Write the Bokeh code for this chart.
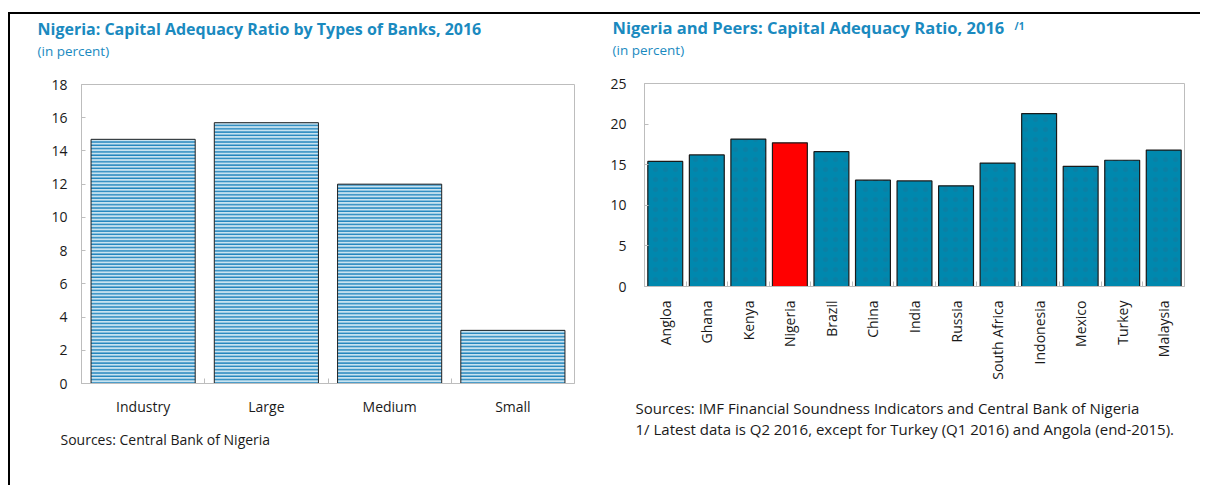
from math import pi
from bokeh.plotting import figure
from bokeh.models import FixedTicker, Range1d, ColumnDataSource, Title
from bokeh.layouts import row, column
from bokeh.embed import file_html
from bokeh.resources import INLINE

# ---------------- data ----------------
bank_types = ["Industry", "Large", "Medium", "Small"]
bank_car = [14.7, 15.7, 12.0, 3.2]
left_yticks = [0, 2, 4, 6, 8, 10, 12, 14, 16, 18]

countries = ["Angloa", "Ghana", "Kenya", "Nigeria", "Brazil", "China", "India",
             "Russia", "South Africa", "Indonesia", "Mexico", "Turkey", "Malaysia"]
country_car = [15.4, 16.2, 18.15, 17.7, 16.6, 13.1, 13.0, 12.4, 15.2, 21.3, 14.8, 15.55, 16.8]
right_yticks = [0, 5, 10, 15, 20, 25]

left_title = "Nigeria: Capital Adequacy Ratio by Types of Banks, 2016"
right_title = "Nigeria and Peers: Capital Adequacy Ratio, 2016"
footnote_mark = "/1"
subtitle = "(in percent)"
left_note = "Sources: Central Bank of Nigeria"
right_note1 = "Sources: IMF Financial Soundness Indicators and Central Bank of Nigeria"
right_note2 = "1/ Latest data is Q2 2016, except for Turkey (Q1 2016) and Angola (end-2015)."

# ---------------- style ----------------
FONT = "Open Sans"
TEAL_TXT = "#1a8abf"
GRAY = "#bdbdbd"
TXT = "#1a1a1a"
H = 471


def style_axes(p, n, names, ytks, ystand, xstand, xorient):
    p.xaxis.ticker = FixedTicker(ticks=[i + 0.5 for i in range(n)],
                                 minor_ticks=list(range(1, n)))
    p.xaxis.major_label_overrides = {i + 0.5: names[i] for i in range(n)}
    p.xaxis.major_tick_line_color = None
    p.xaxis.minor_tick_in = 5
    p.xaxis.minor_tick_out = 0
    p.xaxis.minor_tick_line_color = GRAY
    p.xaxis.axis_line_color = GRAY
    p.xaxis.major_label_standoff = xstand
    p.xaxis.major_label_orientation = xorient
    p.yaxis.ticker = FixedTicker(ticks=ytks, minor_ticks=[])
    p.yaxis.major_tick_in = 4
    p.yaxis.major_tick_out = 0
    p.yaxis.major_tick_line_color = GRAY
    p.yaxis.axis_line_color = GRAY
    p.yaxis.major_label_standoff = ystand
    for ax in (p.xaxis, p.yaxis):
        ax.major_label_text_font = FONT
        ax.major_label_text_font_size = "14px"
        ax.major_label_text_color = TXT
    p.grid.visible = False
    p.outline_line_color = GRAY
    p.outline_line_width = 1


def add_title(p, text, place, offset, standoff, size, color, bold=False, lh=1.0):
    p.add_layout(Title(text=text, align="left", offset=offset, standoff=standoff,
                       text_font=FONT, text_font_size=size, text_color=color,
                       text_line_height=lh,
                       text_font_style="bold" if bold else "normal"), place)


def add_headings(p, offset, main, size):
    add_title(p, " ", "above", offset, 22, "1px", TEAL_TXT)          # spacer
    add_title(p, subtitle, "above", offset, 0, "13.5px", TEAL_TXT)
    add_title(p, main, "above", offset, -0.6, size, TEAL_TXT, bold=True)


# ---------------- left chart ----------------
src1 = ColumnDataSource(dict(x=[i + 0.5 for i in range(len(bank_types))],
                             top=bank_car, name=bank_types))
p1 = figure(width=590, height=H, output_backend="svg", toolbar_location=None,
            title=None,
            x_range=Range1d(0, len(bank_types)), y_range=Range1d(0, 18),
            min_border_left=71, min_border_right=26, min_border_top=70,
            min_border_bottom=102, background_fill_color="white",
            border_fill_color="white")
p1.vbar(x="x", top="top", width=0.845, bottom=0, source=src1,
        fill_color="#c8e3f0", line_color="#222222", line_width=1,
        hatch_pattern="-", hatch_color="#2185bd", hatch_scale=3.3,
        hatch_weight=1.5)
style_axes(p1, len(bank_types), bank_types, left_yticks, 14, 7, "horizontal")
add_headings(p1, -44, left_title, "16px")
add_title(p1, left_note, "below", -21, 18, "14px", TXT)

# ---------------- right chart ----------------
colors = ["#ff0000" if c == "Nigeria" else "#0088ae" for c in countries]
hatches = [" " if c == "Nigeria" else "." for c in countries]
src2 = ColumnDataSource(dict(x=[i + 0.5 for i in range(len(countries))],
                             top=country_car, name=countries, color=colors,
                             hatch=hatches))
p2 = figure(width=600, height=H, output_backend="svg", toolbar_location=None,
            title=None,
            x_range=Range1d(0, len(countries)), y_range=Range1d(0, 25),
            min_border_left=44, min_border_right=16, min_border_top=69,
            min_border_bottom=199, background_fill_color="white",
            border_fill_color="white")
p2.vbar(x="x", top="top", width=0.84, bottom=0, source=src2,
        fill_color="color", line_color="#1a1a1a", line_width=1.2,
        hatch_pattern="hatch", hatch_color="#0a80a5", hatch_scale=10,
        hatch_weight=1)
style_axes(p2, len(countries), countries, right_yticks, 18, 8, pi / 2)
add_headings(p2, -32, right_title, "16.5px")
add_title(p2, footnote_mark, "above", 370, -37, "10px", TEAL_TXT, bold=True)
add_title(p2, right_note1 + "\n" + right_note2, "below", -9, 28, "15px", TXT, lh=1.07)

layout = row(column(p1), column(p2),
             styles={"margin": "12px 0px 0px 8px",
                     "border-top": "2px solid black",
                     "border-left": "2px solid black"})

open("out.html", "w").write(file_html(layout, INLINE))
